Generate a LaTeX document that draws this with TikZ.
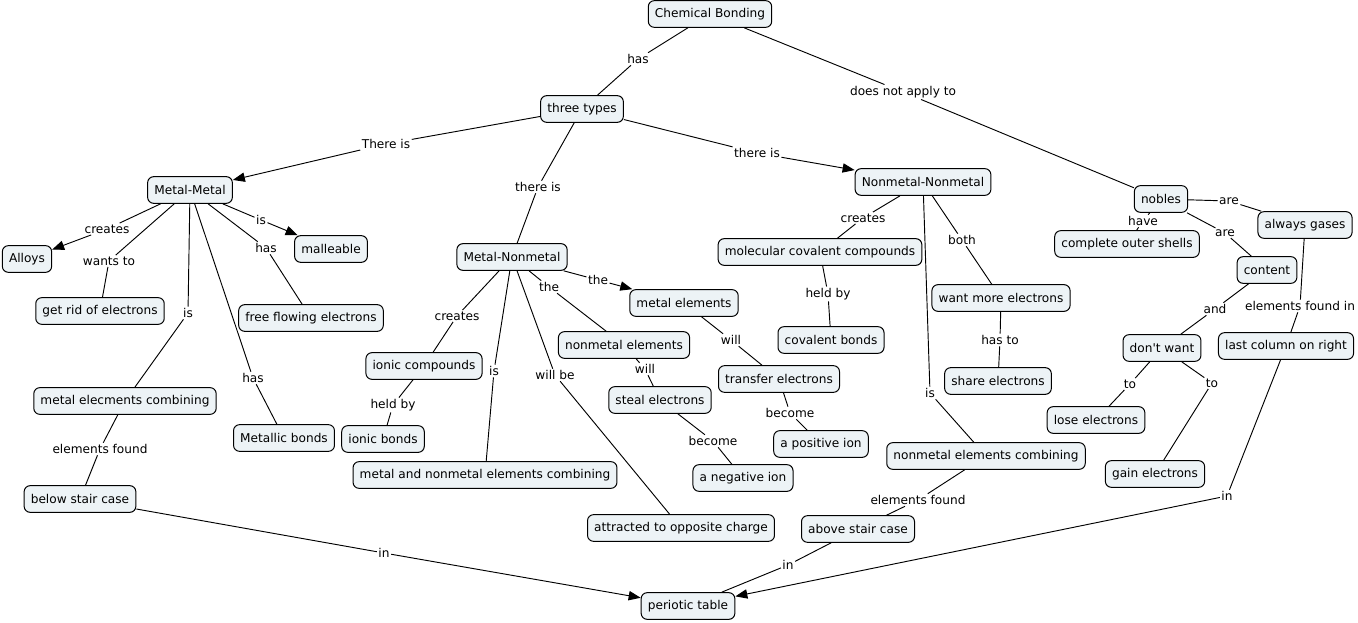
\documentclass[tikz,border=0pt]{standalone}
\usepackage{fontspec}
\setmainfont{DejaVu Sans}[Ligatures=TeXOff]
\usetikzlibrary{arrows.meta}
\definecolor{boxfill}{HTML}{EDF3F6}
\tikzset{
  cbox/.style={draw=black, fill=boxfill, rounded corners=4.5pt, line width=0.75pt, inner xsep=5pt, minimum height=20pt, font=\fontsize{9.1}{11}\selectfont},
  lbl/.style={inner sep=1pt, font=\fontsize{9.1}{11}\selectfont},
  conn/.style={line width=0.7pt},
  arr/.style={line width=0.7pt, -{Triangle[length=9pt,width=7pt]}}
}
\begin{document}
\begin{tikzpicture}[x=0.75pt,y=-0.75pt]
\useasboundingbox (0,0) rectangle (1358,623);
% nodes
\node[cbox] (cb) at (710,14) {Chemical Bonding};
\node[cbox] (tt) at (582,109) {three types};
\node[cbox] (mm) at (190,190) {Metal-Metal};
\node[cbox] (al) at (27,259) {Alloys};
\node[cbox] (ma) at (331,249) {malleable};
\node[cbox] (gr) at (100,311) {get rid of electrons};
\node[cbox] (ff) at (311,318) {free flowing electrons};
\node[cbox] (mec) at (125,401) {metal elecments combining};
\node[cbox] (mb) at (284,438) {Metallic bonds};
\node[cbox] (bs) at (80,499) {below stair case};
\node[cbox] (mn) at (512,257) {Metal-Nonmetal};
\node[cbox] (ic) at (424,366) {ionic compounds};
\node[cbox] (ib) at (383,439) {ionic bonds};
\node[cbox] (mnc) at (485,475) {metal and nonmetal elements combining};
\node[cbox] (at) at (681,528) {attracted to opposite charge};
\node[cbox] (me) at (684,303) {metal elements};
\node[cbox] (ne) at (624,345) {nonmetal elements};
\node[cbox] (se) at (660,400) {steal electrons};
\node[cbox] (te) at (779,379) {transfer electrons};
\node[cbox] (pi) at (821,444) {a positive ion};
\node[cbox] (ni) at (743,478) {a negative ion};
\node[cbox] (nn) at (923,182) {Nonmetal-Nonmetal};
\node[cbox] (mcc) at (820,252) {molecular covalent compounds};
\node[cbox] (cvb) at (831,340) {covalent bonds};
\node[cbox] (wm) at (1001,298) {want more electrons};
\node[cbox] (she) at (998,381) {share electrons};
\node[cbox] (nec) at (986,456) {nonmetal elements combining};
\node[cbox] (as) at (858,529) {above stair case};
\node[cbox] (pt) at (688,606) {periotic table};
\node[cbox] (no) at (1161,199) {nobles};
\node[cbox] (cos) at (1127,244) {complete outer shells};
\node[cbox] (ag) at (1305,225) {always gases};
\node[cbox] (co) at (1267,270) {content};
\node[cbox] (dw) at (1162,348) {don't want};
\node[cbox] (lc) at (1286,346) {last column on right};
\node[cbox] (le) at (1096,420) {lose electrons};
\node[cbox] (ge) at (1155,474) {gain electrons};
% labels
\node[lbl] (l1) at (638,59) {has};
\node[lbl] (l2) at (903,92) {does not apply to};
\node[lbl] (l3) at (386,144) {There is};
\node[lbl] (l4) at (538,187) {there is};
\node[lbl] (l5) at (757,153) {there is};
\node[lbl] (l6) at (107,229) {creates};
\node[lbl] (l7) at (109,261) {wants to};
\node[lbl] (l8) at (261,220) {is};
\node[lbl] (l9) at (266,248) {has};
\node[lbl] (l10) at (188,313) {is};
\node[lbl] (l11) at (253,378) {has};
\node[lbl] (l12) at (100,449) {elements found};
\node[lbl] (l13) at (384,553) {in};
\node[lbl] (l14) at (457,316) {creates};
\node[lbl] (l15) at (393,405) {held by};
\node[lbl] (l16) at (494,371) {is};
\node[lbl] (l17) at (555,375) {will be};
\node[lbl] (l18) at (598,280) {the};
\node[lbl] (l19) at (549,287) {the};
\node[lbl] (l20) at (731,340) {will};
\node[lbl] (l21) at (645,369) {will};
\node[lbl] (l22) at (790,413) {become};
\node[lbl] (l23) at (713,441) {become};
\node[lbl] (l24) at (863,218) {creates};
\node[lbl] (l25) at (828,294) {held by};
\node[lbl] (l26) at (962,240) {both};
\node[lbl] (l27) at (1000,340) {has to};
\node[lbl] (l28) at (930,393) {is};
\node[lbl] (l29) at (918,500) {elements found};
\node[lbl] (l30) at (788,565) {in};
\node[lbl] (l31) at (1227,496) {in};
\node[lbl] (l32) at (1143,221) {have};
\node[lbl] (l33) at (1229,201) {are};
\node[lbl] (l34) at (1225,233) {are};
\node[lbl] (l35) at (1215,309) {and};
\node[lbl] (l36) at (1300,306) {elements found in};
\node[lbl] (l37) at (1130,384) {to};
\node[lbl] (l38) at (1212,383) {to};
% connectors
\draw[conn] (cb) -- (l1); \draw[conn] (l1) -- (tt);
\draw[conn] (cb) -- (l2); \draw[conn] (l2) -- (no);
\draw[conn] (tt) -- (l3); \draw[arr] (l3) -- (mm);
\draw[conn] (tt) -- (l4); \draw[conn] (l4) -- (mn);
\draw[conn] (tt) -- (l5); \draw[arr] (l5) -- (nn);
\draw[conn] (mm) -- (l6); \draw[arr] (l6) -- (al);
\draw[conn] (mm) -- (l7); \draw[conn] (l7) -- (gr);
\draw[conn] (mm) -- (l8); \draw[arr] (l8) -- (ma);
\draw[conn] (mm) -- (l9); \draw[conn] (l9) -- (ff);
\draw[conn] (mm) -- (l10); \draw[conn] (l10) -- (mec);
\draw[conn] (mm) -- (l11); \draw[conn] (l11) -- (mb);
\draw[conn] (mec) -- (l12); \draw[conn] (l12) -- (bs);
\draw[conn] (bs) -- (l13); \draw[arr] (l13) -- (pt);
\draw[conn] (mn) -- (l14); \draw[conn] (l14) -- (ic);
\draw[conn] (ic) -- (l15); \draw[conn] (l15) -- (ib);
\draw[conn] (mn) -- (l16); \draw[conn] (l16) -- (mnc);
\draw[conn] (mn) -- (l17); \draw[conn] (l17) -- (at);
\draw[conn] (mn) -- (l18); \draw[arr] (l18) -- (me);
\draw[conn] (mn) -- (l19); \draw[conn] (l19) -- (ne);
\draw[conn] (me) -- (l20); \draw[conn] (l20) -- (te);
\draw[conn] (ne) -- (l21); \draw[conn] (l21) -- (se);
\draw[conn] (te) -- (l22); \draw[conn] (l22) -- (pi);
\draw[conn] (se) -- (l23); \draw[conn] (l23) -- (ni);
\draw[conn] (nn) -- (l24); \draw[conn] (l24) -- (mcc);
\draw[conn] (mcc) -- (l25); \draw[conn] (l25) -- (cvb);
\draw[conn] (nn) -- (l26); \draw[conn] (l26) -- (wm);
\draw[conn] (wm) -- (l27); \draw[conn] (l27) -- (she);
\draw[conn] (nn) -- (l28); \draw[conn] (l28) -- (nec);
\draw[conn] (nec) -- (l29); \draw[conn] (l29) -- (as);
\draw[conn] (as) -- (l30); \draw[conn] (l30) -- (pt);
\draw[conn] (lc) -- (l31); \draw[arr] (l31) -- (pt);
\draw[conn] (no) -- (l32); \draw[conn] (l32) -- (cos);
\draw[conn] (no) -- (l33); \draw[conn] (l33) -- (ag);
\draw[conn] (no) -- (l34); \draw[conn] (l34) -- (co);
\draw[conn] (co) -- (l35); \draw[conn] (l35) -- (dw);
\draw[conn] (ag) -- (l36); \draw[conn] (l36) -- (lc);
\draw[conn] (dw) -- (l37); \draw[conn] (l37) -- (le);
\draw[conn] (dw) -- (l38); \draw[conn] (l38) -- (ge);
\end{tikzpicture}
\end{document}
